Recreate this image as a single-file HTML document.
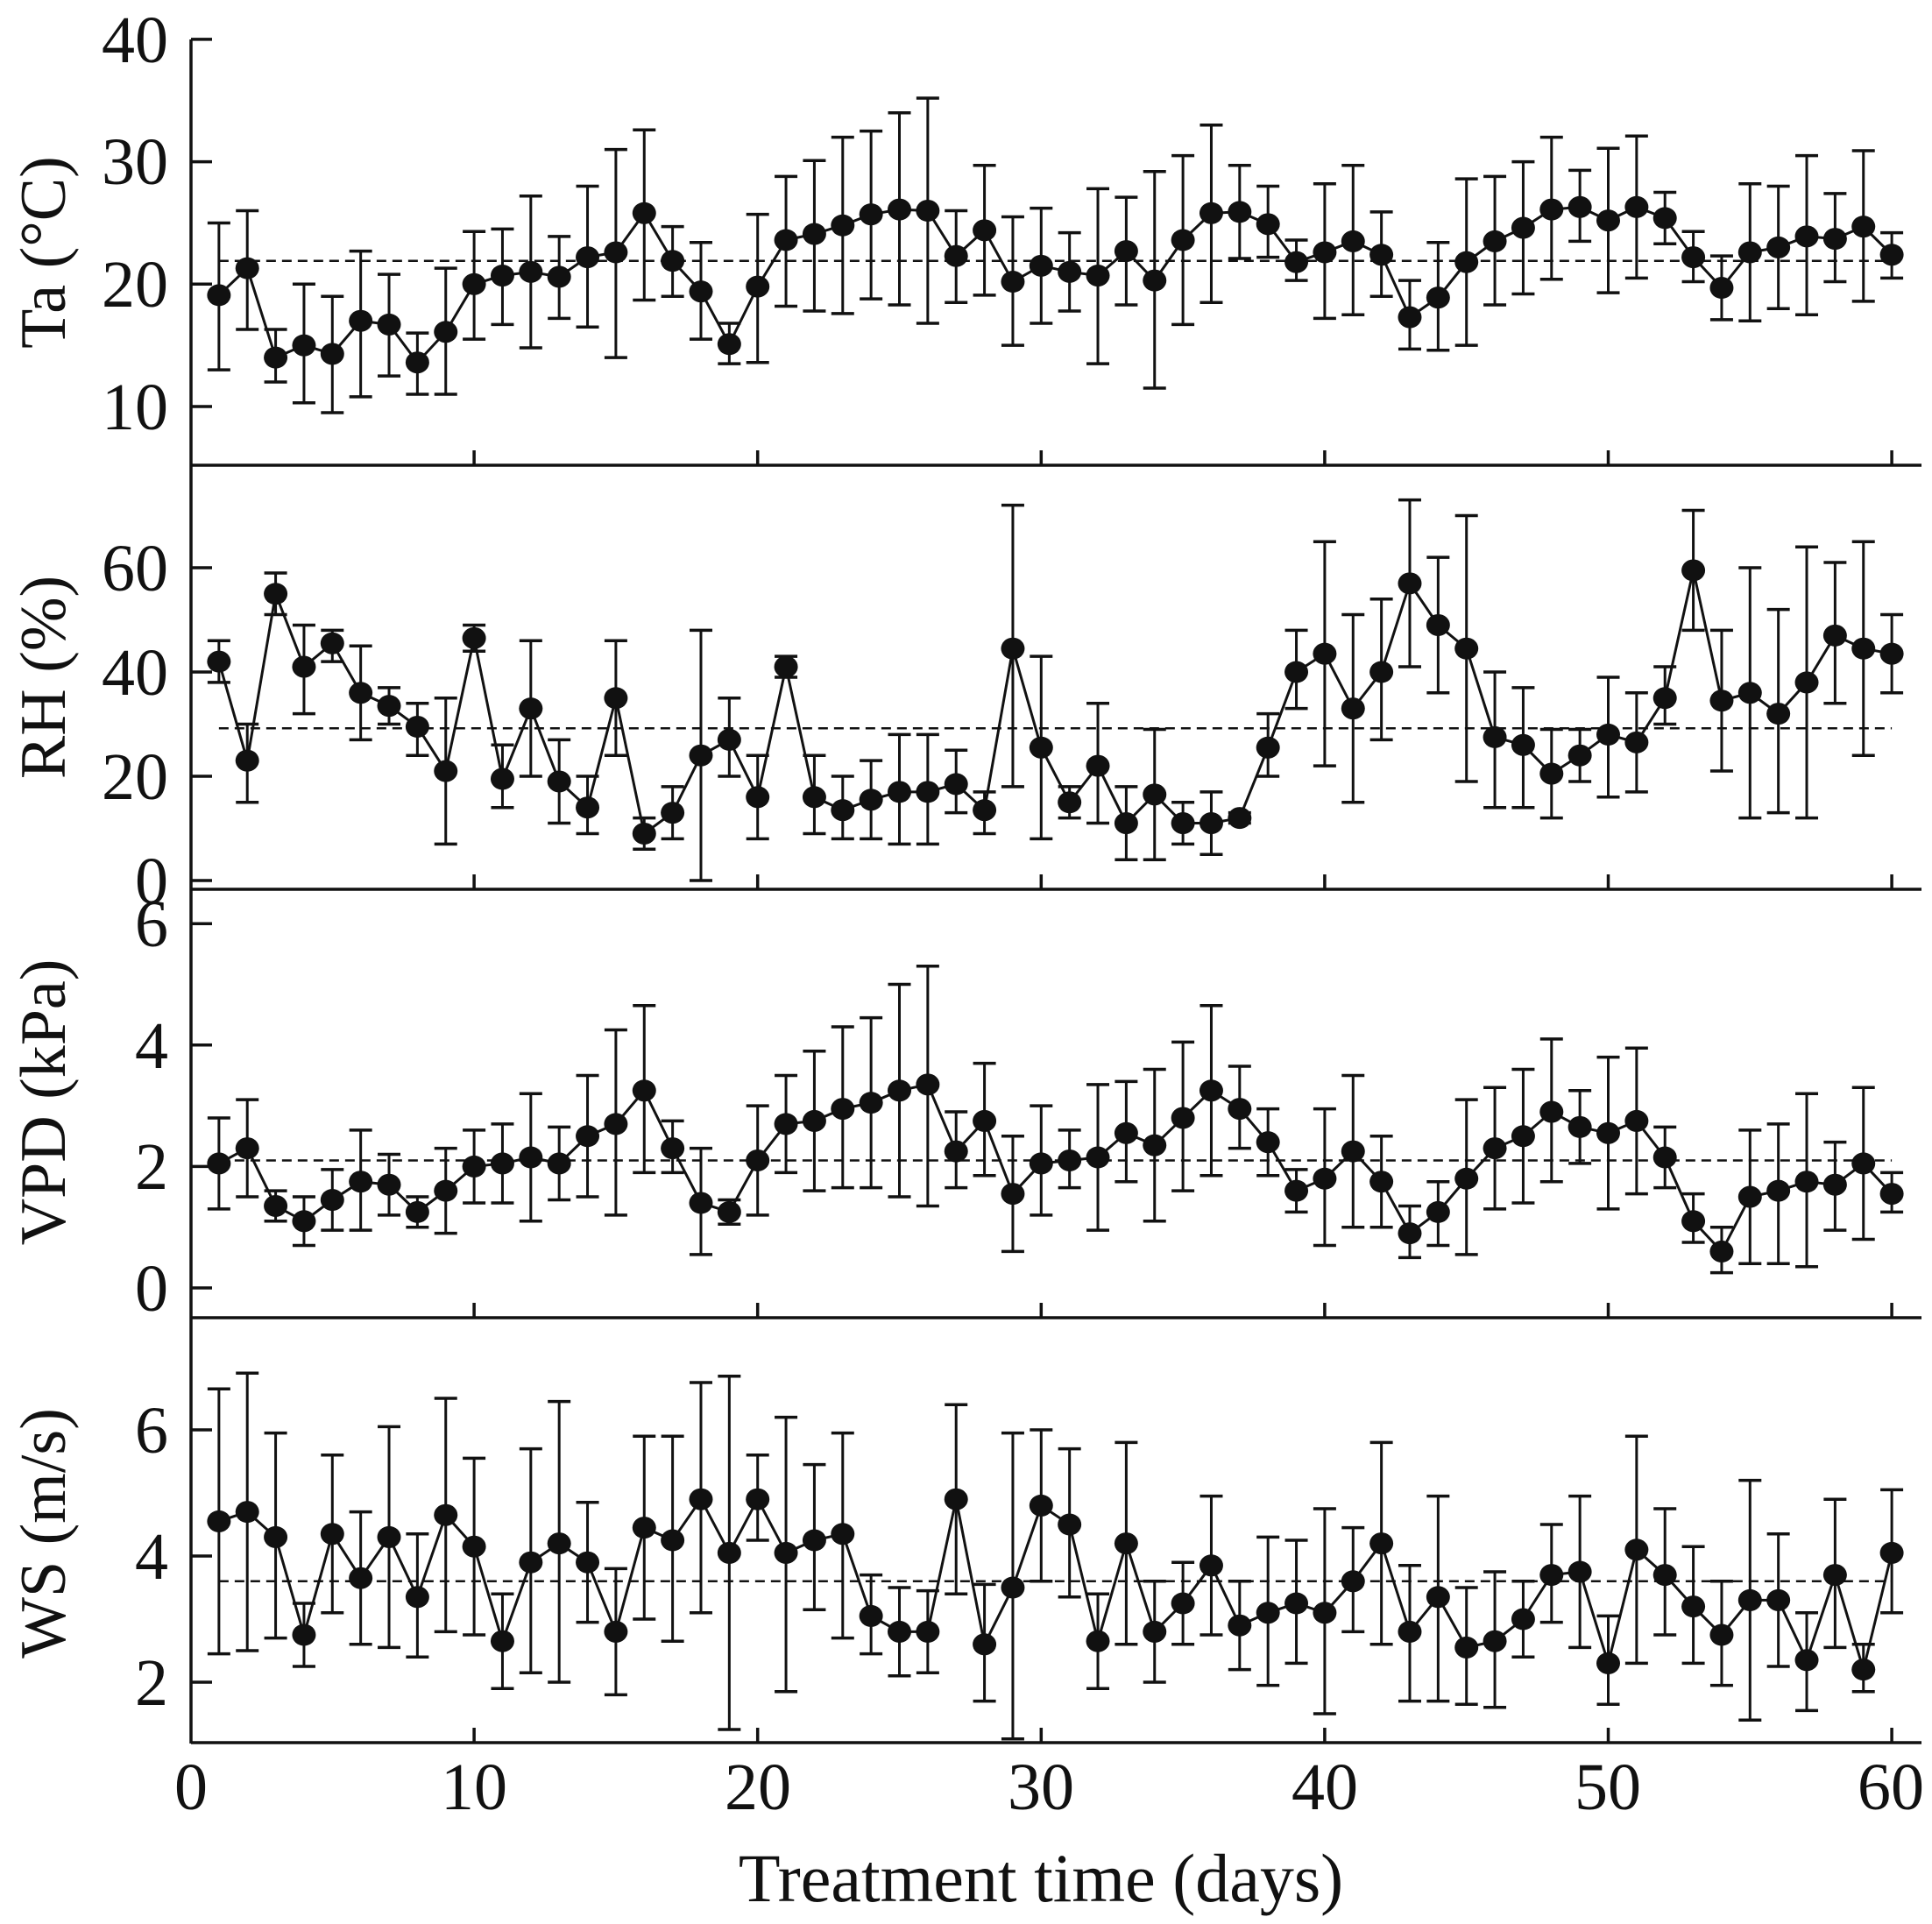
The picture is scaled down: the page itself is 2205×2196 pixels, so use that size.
<!DOCTYPE html>
<html><head><meta charset="utf-8"><style>
html,body{margin:0;padding:0;background:#fff}
svg{display:block}
text{font-family:"Liberation Serif",serif;fill:#111}
</style></head><body>
<svg id="s" width="2205" height="2196" viewBox="0 0 2205 2196" xmlns="http://www.w3.org/2000/svg">
<g font-size="76" text-anchor="end">
<text x="192" y="71">40</text><text x="192" y="210">30</text><text x="192" y="350">20</text><text x="192" y="490">10</text>
<text x="192" y="674">60</text><text x="192" y="793">40</text><text x="192" y="912">20</text><text x="192" y="1031">0</text>
<text x="192" y="1080">6</text><text x="192" y="1219">4</text><text x="192" y="1357">2</text><text x="192" y="1496">0</text>
<text x="192" y="1658">6</text><text x="192" y="1802">4</text><text x="192" y="1946">2</text>
</g>
<g font-size="76" text-anchor="middle">
<text x="218" y="2065">0</text><text x="541" y="2065">10</text><text x="865" y="2065">20</text><text x="1188" y="2065">30</text><text x="1512" y="2065">40</text><text x="1835" y="2065">50</text><text x="2158" y="2065">60</text>
<text x="1188" y="2170" font-size="78">Treatment time (days)</text>
</g>
<g font-size="74" text-anchor="middle">
<text transform="translate(74,288) rotate(-90)">Ta (°C)</text>
<text transform="translate(74,773) rotate(-90)">RH (%)</text>
<text transform="translate(74,1258) rotate(-90)">VPD (kPa)</text>
<text transform="translate(74,1750) rotate(-90)">WS (m/s)</text>
</g>
<g id="plot"></g>
</svg>
<script>
var ns="http://www.w3.org/2000/svg",g=document.getElementById('plot');
function el(t,a){var e=document.createElementNS(ns,t);for(var k in a)e.setAttribute(k,a[k]);g.appendChild(e);return e;}
function X(d){return 217.5+32.36*d;}
var panels=[
{y0:464,v0:10,k:13.97,bot:531,top:45,mean:21.9,ticks:[10,20,30,40],d:[[19.1,13,25],[21.3,16.3,26],[14,12,16.3],[15,10.3,20],[14.3,9.5,19],[17,10.8,22.7],[16.7,12.5,20.8],[13.6,11,16],[16.1,11,21.3],[20,15.5,24.3],[20.7,16.7,24.5],[21,14.8,27.2],[20.6,17.2,23.9],[22.2,16.5,28],[22.6,14,31],[25.8,18.7,32.6],[21.9,19,24.7],[19.4,15.5,23.4],[15.1,13.5,16.8],[19.8,13.6,25.7],[23.6,18.2,28.8],[24.1,17.8,30.1],[24.8,17.6,32],[25.7,18.8,32.5],[26.1,18.3,34],[26,16.8,35.2],[22.3,18.5,26],[24.4,19.1,29.7],[20.2,15,25.5],[21.5,16.8,26.2],[21,17.8,24.2],[20.7,13.5,27.8],[22.7,18.3,27.1],[20.3,11.5,29.2],[23.6,16.7,30.5],[25.8,18.5,33],[25.9,22.1,29.7],[24.9,22.2,28],[21.8,20.3,23.6],[22.6,17.2,28.2],[23.5,17.5,29.7],[22.4,19,25.9],[17.3,14.7,20.3],[18.9,14.6,23.4],[21.8,15,28.6],[23.5,18.3,28.8],[24.6,19.2,30],[26.1,20.4,32],[26.3,23.5,29.3],[25.2,19.3,31.1],[26.3,20.5,32.1],[25.4,23.3,27.5],[22.2,20.2,24.3],[19.7,17.1,22.3],[22.6,17,28.2],[23,18,28],[23.9,17.5,30.5],[23.7,20.2,27.4],[24.7,18.6,30.9],[22.4,20.5,24.2]]},
{y0:1005,v0:0,k:5.95,bot:1015,mean:29.2,ticks:[0,20,40,60],d:[[42,38,46],[23,15,30],[55,51,59],[41,32,49],[45.5,42,48],[36,27,45],[33.5,30,37],[29.5,24,34],[21,7,35],[46.5,44,49],[19.5,14,26],[33,20,46],[19,11,27],[14,9,20],[35,24,46],[9,6,12],[13,8,18],[24,0,48],[27,20,35],[16,8,24],[41,39,43],[16,9,24],[13.5,8,20],[15.5,8,23],[17,7,28],[17,7,28],[18.5,13,25],[13.5,9,17],[44.5,18,72],[25.5,8,43],[15,12,18],[22,11,34],[11,4,18],[16.5,4,29],[11,7,15],[11,5,17],[12,11,13],[25.5,20,32],[40,33,48],[43.5,22,65],[33,15,51],[40,27,54],[57,41,73],[49,36,62],[44.5,19,70],[27.5,14,40],[26,14,37],[20.5,12,29],[24,19,29],[28,16,39],[26.5,17,36],[35,30,41],[59.5,48,71],[34.5,21,48],[36,12,60],[32,13,52],[38,12,64],[47,34,61],[44.5,24,65],[43.5,36,51]]},
{y0:1470,v0:0,k:69.3,bot:1504,mean:2.1,ticks:[0,2,4,6],d:[[2.05,1.3,2.8],[2.3,1.5,3.1],[1.35,1.1,1.6],[1.1,0.7,1.5],[1.45,0.95,1.95],[1.75,0.95,2.6],[1.7,1.2,2.2],[1.25,1,1.5],[1.6,0.9,2.3],[2,1.4,2.6],[2.05,1.4,2.7],[2.15,1.1,3.2],[2.05,1.45,2.65],[2.5,1.5,3.5],[2.7,1.2,4.25],[3.25,1.9,4.65],[2.3,1.9,2.75],[1.4,0.55,2.3],[1.25,1.05,1.45],[2.1,1.2,3],[2.7,1.9,3.5],[2.75,1.6,3.9],[2.95,1.65,4.3],[3.05,1.65,4.45],[3.25,1.5,5],[3.35,1.35,5.3],[2.25,1.65,2.9],[2.75,1.85,3.7],[1.55,0.6,2.5],[2.05,1.2,3],[2.1,1.65,2.6],[2.15,0.95,3.35],[2.55,1.75,3.4],[2.35,1.1,3.6],[2.8,1.6,4.05],[3.25,1.85,4.65],[2.95,2.3,3.65],[2.4,1.85,2.95],[1.6,1.25,1.95],[1.8,0.7,2.95],[2.25,1,3.5],[1.75,1,2.5],[0.9,0.5,1.35],[1.25,0.7,1.75],[1.8,0.55,3.1],[2.3,1.3,3.3],[2.5,1.4,3.6],[2.9,1.75,4.1],[2.65,2.05,3.25],[2.55,1.3,3.8],[2.75,1.55,3.95],[2.15,1.65,2.65],[1.1,0.75,1.55],[0.6,0.25,1],[1.5,0.4,2.6],[1.6,0.4,2.7],[1.75,0.35,3.2],[1.7,0.95,2.4],[2.05,0.8,3.3],[1.55,1.25,1.9]]},
{y0:1920,v0:2,k:72,bot:1989,mean:3.6,ticks:[2,4,6],d:[[4.55,2.45,6.65],[4.7,2.5,6.9],[4.3,2.7,5.95],[2.75,2.25,3.25],[4.35,3.1,5.6],[3.65,2.6,4.7],[4.3,2.55,6.05],[3.35,2.4,4.35],[4.65,2.8,6.5],[4.15,2.75,5.55],[2.65,1.9,3.4],[3.9,2.15,5.7],[4.2,2,6.45],[3.9,2.95,4.85],[2.8,1.8,3.8],[4.45,3,5.9],[4.25,2.65,5.9],[4.9,3.1,6.75],[4.05,1.25,6.85],[4.9,4.25,5.6],[4.05,1.85,6.2],[4.25,3.15,5.45],[4.35,2.7,5.95],[3.05,2.45,3.7],[2.8,2.1,3.5],[2.8,2.15,3.45],[4.9,3.4,6.4],[2.6,1.7,3.55],[3.5,1.1,5.95],[4.8,3.6,6],[4.5,3.35,5.7],[2.65,1.9,3.4],[4.2,2.6,5.8],[2.8,2,3.6],[3.25,2.6,3.9],[3.85,2.75,4.95],[2.9,2.2,3.6],[3.1,1.95,4.3],[3.25,2.3,4.25],[3.1,1.5,4.75],[3.6,2.8,4.45],[4.2,2.6,5.8],[2.8,1.7,3.85],[3.35,1.7,4.95],[2.55,1.65,3.5],[2.65,1.6,3.75],[3,2.4,3.6],[3.7,2.95,4.5],[3.75,2.55,4.95],[2.3,1.65,3.05],[4.1,2.3,5.9],[3.7,2.75,4.75],[3.2,2.3,4.15],[2.75,1.95,3.6],[3.3,1.4,5.2],[3.3,2.25,4.35],[2.35,1.55,3.1],[3.7,2.55,4.9],[2.2,1.85,2.6],[4.05,3.1,5.05]]}
];
var C="#111";
el('line',{x1:218,y1:45,x2:218,y2:1990,stroke:C,'stroke-width':3.5});
panels.forEach(function(p){
  function Y(v){return p.y0-(v-p.v0)*p.k;}
  el('line',{x1:218,y1:p.bot,x2:2193,y2:p.bot,stroke:C,'stroke-width':3.5});
  for(var t=10;t<=60;t+=10)el('line',{x1:X(t),y1:p.bot,x2:X(t),y2:p.bot-17,stroke:C,'stroke-width':3.5});
  p.ticks.forEach(function(v){el('line',{x1:218,y1:Y(v),x2:242,y2:Y(v),stroke:C,'stroke-width':3.5});});
  el('line',{x1:X(1),y1:Y(p.mean),x2:X(60),y2:Y(p.mean),stroke:C,'stroke-width':2.5,'stroke-dasharray':'11,7'});
  var pts=[];
  p.d.forEach(function(r,i){var x=X(i+1);pts.push(x+','+Y(r[0]));
    el('line',{x1:x,y1:Y(r[1]),x2:x,y2:Y(r[2]),stroke:C,'stroke-width':3});
    el('line',{x1:x-13,y1:Y(r[1]),x2:x+13,y2:Y(r[1]),stroke:C,'stroke-width':3.5});
    el('line',{x1:x-13,y1:Y(r[2]),x2:x+13,y2:Y(r[2]),stroke:C,'stroke-width':3.5});
  });
  el('polyline',{points:pts.join(' '),fill:'none',stroke:C,'stroke-width':3});
  p.d.forEach(function(r,i){el('ellipse',{cx:X(i+1),cy:Y(r[0]),rx:13.5,ry:12.5,fill:C});});
});
</script>
</body></html>
